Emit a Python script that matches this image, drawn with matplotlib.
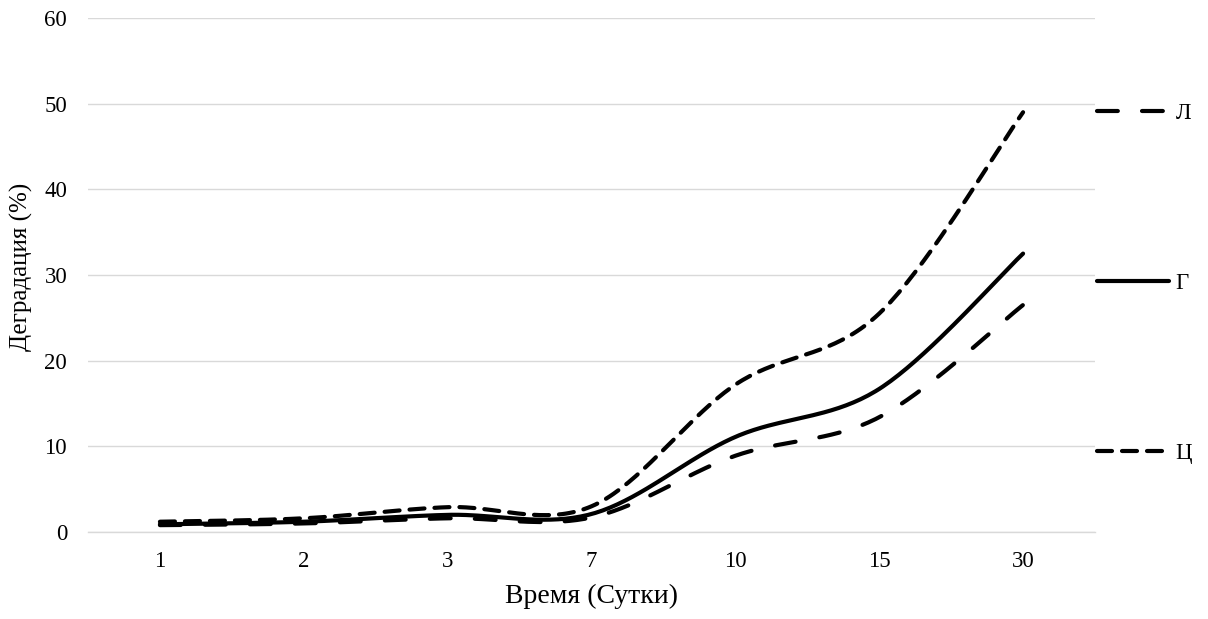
import numpy as np
import matplotlib
matplotlib.use("Agg")
import matplotlib.pyplot as plt

# Degradation over time for three samples
days = ["1", "2", "3", "7", "10", "15", "30"]
series_L = [0.8, 1.0, 1.6, 1.7, 8.9, 13.4, 26.5]
series_G = [0.9, 1.2, 2.0, 2.1, 11.1, 16.7, 32.5]
series_C = [1.2, 1.6, 2.9, 3.0, 17.2, 25.5, 49.0]
labels = ["Л", "Г", "Ц"]

plt.rcParams["font.family"] = ["Liberation Serif", "DejaVu Serif"]


def smooth(xs, ys, n=40):
    """Bezier smoothing with Catmull-Rom style control points."""
    pts = np.column_stack([xs, ys]).astype(float)
    ext = np.vstack([pts[0], pts, pts[-1]])
    t = np.linspace(0, 1, n)[:, None]
    out = []
    for i in range(len(pts) - 1):
        p0, p1, p2, p3 = ext[i], ext[i + 1], ext[i + 2], ext[i + 3]
        c1 = p1 + (p2 - p0) / 6.0
        c2 = p2 - (p3 - p1) / 6.0
        seg = ((1 - t) ** 3) * p1 + 3 * ((1 - t) ** 2) * t * c1 \
            + 3 * (1 - t) * (t ** 2) * c2 + (t ** 3) * p2
        out.append(seg if i == 0 else seg[1:])
    arr = np.vstack(out)
    return arr[:, 0], arr[:, 1]


fig = plt.figure(figsize=(12.08, 6.19), dpi=100)
ax = fig.add_axes([88 / 1208, 1 - 532 / 619, (1095 - 88) / 1208, (532 - 18) / 619])

x = np.arange(len(days))
styles = [
    (0, (5.0, 5.8)),   # long dash
    "-",               # solid
    (0, (3.6, 2.4)),   # short dash
]
for vals, lab, ls in zip([series_L, series_G, series_C], labels, styles):
    sx, sy = smooth(x, vals)
    ax.plot(sx, sy, color="black", lw=3.0, linestyle=ls, label=lab,
            dash_capstyle="round", solid_capstyle="round")

ax.set_xlim(-0.5, len(days) - 0.5)
ax.set_ylim(0, 60)
ax.set_yticks(np.arange(0, 61, 10))
ax.set_xticks(x)
ax.set_xticklabels(days)
ax.grid(axis="y", color="#D9D9D9", lw=1.0)
ax.set_axisbelow(True)
for s in ["top", "right", "left"]:
    ax.spines[s].set_visible(False)
ax.spines["bottom"].set_color("#D9D9D9")
ax.spines["bottom"].set_linewidth(1.0)
ax.tick_params(axis="both", length=0, labelsize=16.5, colors="black")
ax.tick_params(axis="y", pad=15)
ax.tick_params(axis="x", pad=14)

ax.set_xlabel("Время (Сутки)", fontsize=20, labelpad=8)
ax.set_ylabel("Деградация (%)", fontsize=18, labelpad=4)
ax.yaxis.set_label_coords(-0.0545, 0.515)

leg = ax.legend(loc="upper left", bbox_to_anchor=(1.002, 0.835), frameon=False,
                fontsize=16.5, handlelength=3.15, handletextpad=0.27,
                labelspacing=6.5, borderpad=0, borderaxespad=0)

fig.savefig("out.png", dpi=100)
